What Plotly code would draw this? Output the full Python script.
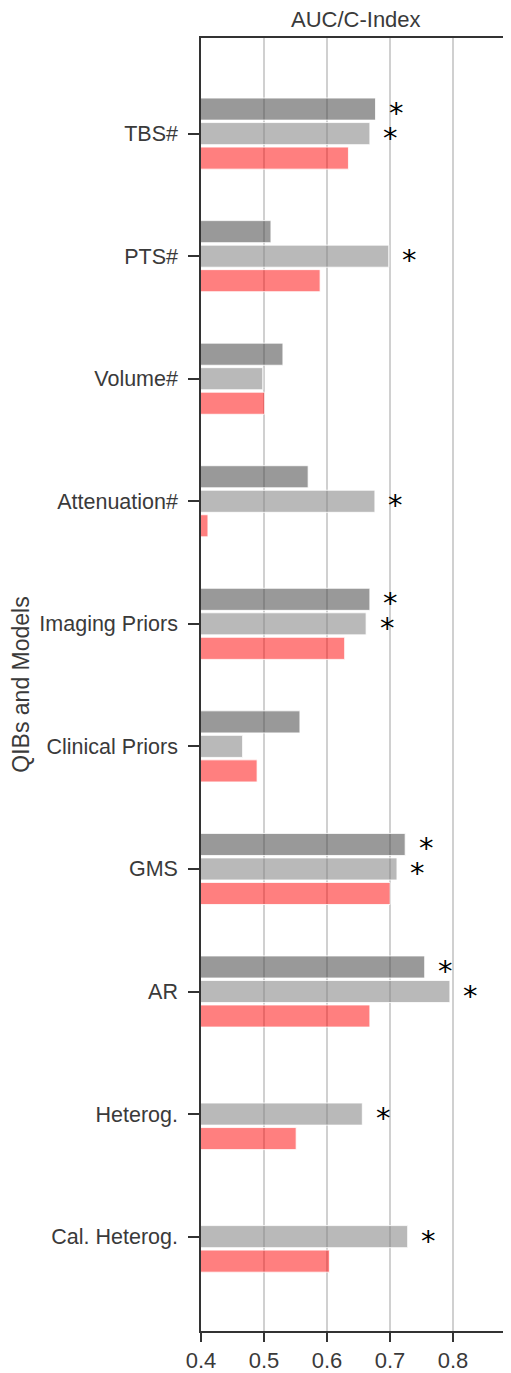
import plotly.graph_objects as go

categories = ["TBS#", "PTS#", "Volume#", "Attenuation#", "Imaging Priors",
              "Clinical Priors", "GMS", "AR", "Heterog.", "Cal. Heterog."]

dark_vals = [0.677, 0.511, 0.530, 0.570, 0.668, 0.557, 0.724, 0.755, None, None]
light_vals = [0.668, 0.698, 0.498, 0.676, 0.662, 0.466, 0.711, 0.795, 0.656, 0.728]
red_vals = [0.634, 0.589, 0.501, 0.411, 0.628, 0.489, 0.700, 0.668, 0.551, 0.604]

dark_sig = [True, False, False, False, True, False, True, True, False, False]
light_sig = [True, True, False, True, True, False, True, True, True, True]

x_ticks = [0.4, 0.5, 0.6, 0.7, 0.8]
x_tick_labels = ["0.4", "0.5", "0.6", "0.7", "0.8"]

FONT = "Liberation Sans, Arial, sans-serif"
TXT = "#3a3a3a"

fig = go.Figure()
series = [
    ("dark", dark_vals, "rgba(70,70,70,0.55)"),
    ("light", light_vals, "rgba(128,128,128,0.55)"),
    ("red", red_vals, "rgba(255,0,0,0.5)"),
]
for name, vals, col in series:
    fig.add_trace(go.Bar(
        y=categories, x=vals, orientation="h", name=name,
        marker=dict(color=col, line=dict(color="rgba(255,255,255,0.8)", width=1)),
        showlegend=False,
    ))

annotations = []
for sig, vals, shift in [(dark_sig, dark_vals, 24.5), (light_sig, light_vals, 0)]:
    for cat, s, v in zip(categories, sig, vals):
        if s and v is not None:
            annotations.append(dict(
                x=v, y=cat, xref="x", yref="y", text="*", showarrow=False,
                xanchor="center", yanchor="middle", xshift=21, yshift=shift - 4,
                height=24, valign="middle",
                font=dict(family="DejaVu Sans", size=29, color="black"),
            ))

annotations.append(dict(
    x=0.5, y=1, xref="paper", yref="paper", text="AUC/C-Index", showarrow=False,
    xanchor="center", yanchor="middle", yshift=19,
    font=dict(family=FONT, size=22, color=TXT),
))

# page body has an 8px margin; the figure is sized to fill the rest of the window
fig.update_layout(
    width=503, height=1365,
    margin=dict(l=193, r=0, t=30, b=40),
    paper_bgcolor="white", plot_bgcolor="white",
    barmode="group", bargap=0.4, bargroupgap=0.1,
    annotations=annotations,
    font=dict(family=FONT, size=22, color=TXT),
)
fig.update_xaxes(
    range=[0.4, 0.892], tickvals=x_ticks, ticktext=x_tick_labels,
    showgrid=True, gridcolor="#d0d0d0", gridwidth=1.5,
    showline=True, linecolor="#333333", linewidth=1.5, mirror=True,
    ticks="outside", ticklen=9, tickwidth=1.5, tickcolor="#333333",
    zeroline=False, tickfont=dict(size=22, color=TXT),
)
fig.update_yaxes(
    range=[9.77, -0.78],
    showgrid=False, showline=True, linecolor="#333333", linewidth=1.5,
    ticks="outside", ticklen=11, tickwidth=1.5, tickcolor="#333333",
    ticklabelstandoff=6,
    zeroline=False, tickfont=dict(size=21.5, color=TXT),
    title=dict(text="QIBs and Models", font=dict(size=23, color=TXT), standoff=12),
)

fig.write_html("out.html")
